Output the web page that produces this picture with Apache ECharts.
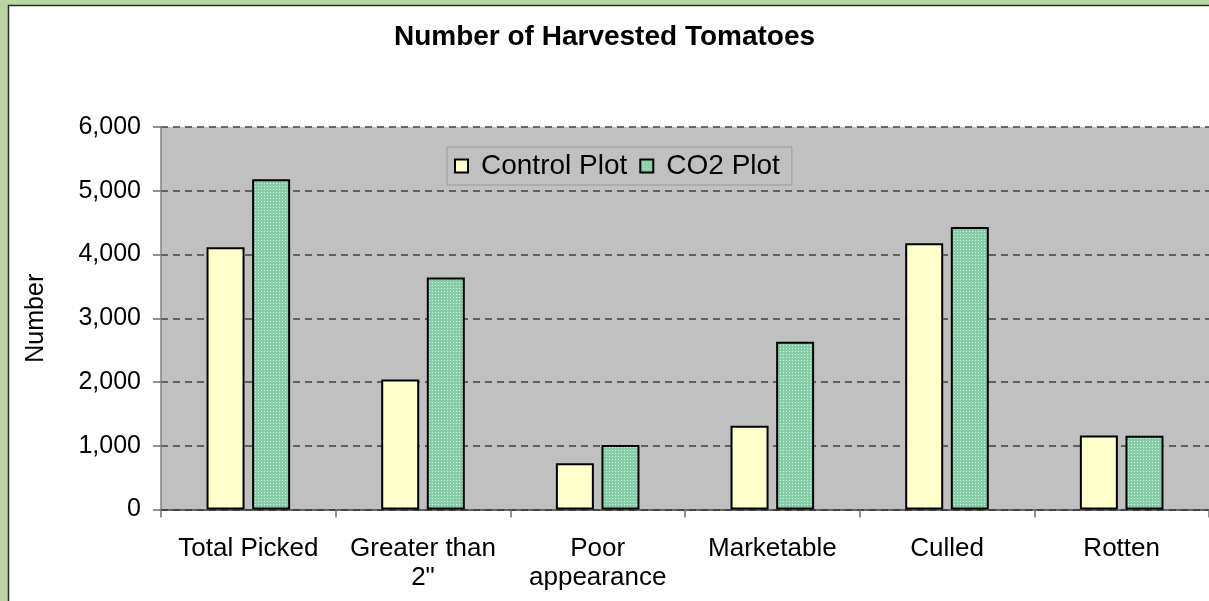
<!DOCTYPE html>
<html>
<head>
<meta charset="utf-8">
<script src="https://cdn.jsdelivr.net/npm/echarts@6/dist/echarts.min.js"></script>
<style>
  html, body { margin: 0; padding: 0; background: #bcd4a2; }
  #chart { width: 1209px; height: 601px; }
</style>
</head>
<body>
<div id="chart"></div>
<script>
// Harvest counts per category
const categories = ['Total Picked', 'Greater than\n2"', 'Poor\nappearance', 'Marketable', 'Culled', 'Rotten'];
const controlPlot = [4115, 2040, 725, 1315, 4175, 1160];
const co2Plot = [5180, 3640, 1010, 2630, 4430, 1155];
const yTicks = { min: 0, max: 6000, interval: 1000 };

// Small tiled fills for the two bar series
function makePattern(size, base, dots, dotColor) {
  const c = document.createElement('canvas');
  c.width = size; c.height = size;
  const g = c.getContext('2d');
  g.fillStyle = base;
  g.fillRect(0, 0, size, size);
  g.fillStyle = dotColor;
  dots.forEach(([x, y]) => g.fillRect(x, y, 1, 1));
  return { image: c, repeat: 'repeat' };
}
const controlFill = makePattern(4, '#ffffc6', [[0, 0], [2, 2]], '#ffffec');
const co2Fill = makePattern(3, '#86cda7', [[0, 0]], '#d6f0e2');

const chart = echarts.init(document.getElementById('chart'), null, { renderer: 'canvas' });
const font = 'Arial, "Liberation Sans", sans-serif';

chart.setOption({
  backgroundColor: '#bcd4a2',
  animation: false,
  graphic: [{
    type: 'rect',
    z: -10,
    silent: true,
    shape: { x: 8.5, y: 5.5, width: 1215, height: 610 },
    style: { fill: '#ffffff', stroke: '#2a2a2a', lineWidth: 1.5 }
  }],
  title: {
    text: 'Number of Harvested Tomatoes',
    left: 'center',
    top: 18,
    textStyle: { fontFamily: font, fontWeight: 'bold', fontSize: 28, color: '#000' }
  },
  legend: {
    left: 447,
    top: 147,
    orient: 'horizontal',
    backgroundColor: '#c0c0c0',
    borderColor: '#9a9a9a',
    borderWidth: 1,
    borderRadius: 0,
    padding: [5, 12, 5, 7],
    itemWidth: 13,
    itemHeight: 13,
    itemGap: 12,
    icon: 'rect',
    textStyle: { fontFamily: font, fontSize: 28, color: '#000', padding: [0, 0, 0, 8] }
  },
  grid: {
    left: 161,
    right: -8,
    top: 127,
    bottom: 91.5,
    show: true,
    backgroundColor: '#c0c0c0',
    borderWidth: 0,
    containLabel: false
  },
  xAxis: {
    type: 'category',
    data: categories,
    axisLine: { lineStyle: { color: '#3a3a3a', width: 1.5 } },
    axisTick: { show: true, length: 8, lineStyle: { color: '#707070', width: 1.5 } },
    axisLabel: {
      fontFamily: font, fontSize: 26, color: '#000', margin: 25, lineHeight: 29,
      interval: 0
    },
    splitLine: { show: false }
  },
  yAxis: {
    type: 'value',
    min: yTicks.min,
    max: yTicks.max,
    interval: yTicks.interval,
    name: 'Number',
    nameLocation: 'middle',
    nameGap: 112,
    nameRotate: 90,
    nameTextStyle: { fontFamily: font, fontSize: 25, color: '#000' },
    axisLine: { show: true, lineStyle: { color: '#808080', width: 1.5 } },
    axisTick: { show: true, length: 8, lineStyle: { color: '#707070', width: 1.5 } },
    axisLabel: {
      fontFamily: font, fontSize: 25, color: '#000', margin: 20,
      formatter: v => v.toLocaleString('en-US')
    },
    splitLine: { show: true, lineStyle: { color: '#404040', type: [7, 5], width: 1.5 } }
  },
  series: [
    {
      name: 'Control Plot',
      type: 'bar',
      data: controlPlot,
      barWidth: 38,
      barGap: '20%',
      itemStyle: { color: controlFill, borderColor: '#000', borderWidth: 2 }
    },
    {
      name: 'CO2 Plot',
      type: 'bar',
      data: co2Plot,
      barWidth: 38,
      barGap: '20%',
      itemStyle: { color: co2Fill, borderColor: '#000', borderWidth: 2 }
    }
  ]
});
</script>
</body>
</html>
